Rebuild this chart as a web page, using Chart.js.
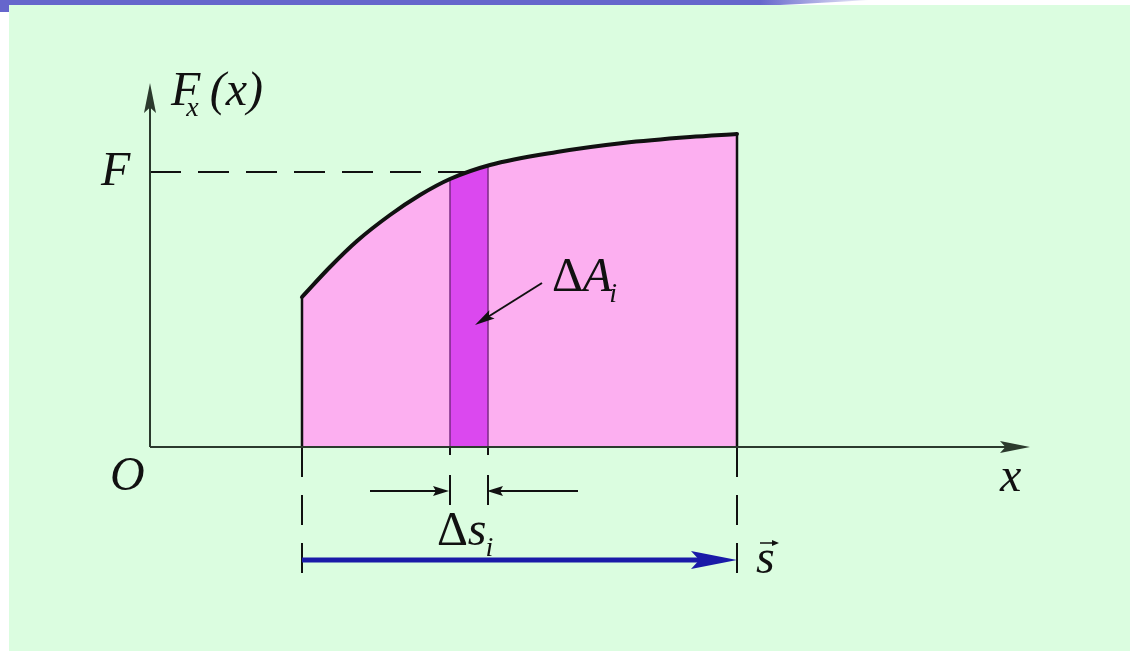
<!DOCTYPE html>
<html>
<head>
<meta charset="utf-8">
<title>Work of a variable force</title>
<script src="https://cdn.jsdelivr.net/npm/chart.js@4"></script>
<style>
  html, body { margin: 0; padding: 0; background: #ffffff; }
  #wrap { width: 1130px; height: 651px; }
</style>
</head>
<body>
<div id="wrap"><canvas id="workChart" width="1130" height="651"></canvas></div>
<script>
// values (x: position, y: force), arbitrary units
const curveX = [15.2, 18.0, 20.7, 24.0, 27.0, 30.0, 34.0, 40.7, 47.3, 54.0, 58.7];
const curveY = [15.0, 18.0, 20.6, 23.2, 25.2, 26.8, 28.2, 29.5, 30.4, 31.0, 31.3];
const limitsX = [15.2, 58.7];          // start and end of the displacement s
const limitsY = [15.0, 31.3];          // force at both ends
const stripX = [30.0, 33.8];           // the small step Δs_i
const stripY = [26.8, 28.15];
const forceF = 27.5;                   // level F marked on the axis
const crossX = 32.0;                   // where the curve reaches F
const axisEnd = [88, 36.4];            // tip of x axis, tip of F axis
const guideLow = -13.1;                // bottom of the long dashed guides
const stripGuideLow = -5.8;            // bottom of the short dashed guides
const dimY = -4.4;                     // height of the Δs_i arrows
const dimLeft = [22.0, 29.9];
const dimRight = [42.8, 33.7];
const sArrowY = -11.3;                 // height of the blue s arrow
const pointerX = [39.2, 32.5];         // ΔA_i pointer
const pointerY = [16.4, 12.2];

const pts = (xs, ys) => xs.map((x, i) => ({ x: x, y: ys[i] }));
const seg = (x0, y0, x1, y1) => [{ x: x0, y: y0 }, { x: x1, y: y1 }];

const INK = '#111111';
const AXIS = '#2b3a2d';

// panel background and the blue strip at the top
const backdrop = {
    id: 'backdrop',
    beforeDraw(chart) {
        const ctx = chart.ctx;
        ctx.save();
        ctx.fillStyle = '#ffffff';
        ctx.fillRect(0, 0, chart.width, chart.height);
        ctx.fillStyle = '#dbfde0';
        ctx.fillRect(9, 5, chart.width - 9, chart.height - 5);
        const g = ctx.createLinearGradient(760, 0, 870, 0);
        g.addColorStop(0, '#6666cc');
        g.addColorStop(1, 'rgba(102,102,204,0.1)');
        ctx.fillStyle = g;
        ctx.beginPath();
        ctx.moveTo(0, 0);
        ctx.lineTo(868, 0);
        ctx.quadraticCurveTo(820, 3, 780, 5);
        ctx.lineTo(9, 5);
        ctx.lineTo(9, 12);
        ctx.lineTo(0, 12);
        ctx.closePath();
        ctx.fill();
        ctx.restore();
    }
};

// arrow heads on datasets flagged with `arrow`
function headOf(meta, ds) {
    const n = meta.data.length;
    const a = meta.data[n - 2], b = meta.data[n - 1];
    const dx = b.x - a.x, dy = b.y - a.y;
    const d = Math.hypot(dx, dy) || 1;
    return { tx: b.x, ty: b.y, ux: dx / d, uy: dy / d, len: ds.arrow.len, hw: ds.arrow.hw };
}

const arrowHeads = {
    id: 'arrowHeads',
    beforeDatasetDraw(chart, args) {
        const ds = chart.data.datasets[args.index];
        if (!ds.arrow) return;
        const h = headOf(args.meta, ds);
        const ctx = chart.ctx;
        const w = ds.borderWidth + 2;
        const nx = -h.uy, ny = h.ux;
        const bx = h.tx - h.ux * h.len * 0.6, by = h.ty - h.uy * h.len * 0.6;
        const ex = h.tx + h.ux * 4, ey = h.ty + h.uy * 4;
        // keep the shaft out of the arrow tip
        ctx.save();
        ctx.beginPath();
        ctx.rect(0, 0, chart.width, chart.height);
        ctx.moveTo(bx + nx * w, by + ny * w);
        ctx.lineTo(ex + nx * w, ey + ny * w);
        ctx.lineTo(ex - nx * w, ey - ny * w);
        ctx.lineTo(bx - nx * w, by - ny * w);
        ctx.closePath();
        ctx.clip('evenodd');
    },
    afterDatasetDraw(chart, args) {
        const ds = chart.data.datasets[args.index];
        if (!ds.arrow) return;
        const ctx = chart.ctx;
        ctx.restore();
        const h = headOf(args.meta, ds);
        const nx = -h.uy, ny = h.ux;
        const bx = h.tx - h.ux * h.len, by = h.ty - h.uy * h.len;
        const ix = h.tx - h.ux * h.len * 0.82, iy = h.ty - h.uy * h.len * 0.82;
        ctx.save();
        ctx.fillStyle = ds.borderColor;
        ctx.beginPath();
        ctx.moveTo(h.tx, h.ty);
        ctx.lineTo(bx + nx * h.hw, by + ny * h.hw);
        ctx.lineTo(ix, iy);
        ctx.lineTo(bx - nx * h.hw, by - ny * h.hw);
        ctx.closePath();
        ctx.fill();
        ctx.restore();
    }
};

// formula labels, placed in data coordinates
const FONT = '"Liberation Serif", "Times New Roman", serif';
const labels = {
    id: 'labels',
    afterDatasetsDraw(chart) {
        const ctx = chart.ctx;
        const xs = chart.scales.x, ys = chart.scales.y;
        const put = (parts, x, y) => {
            let px = xs.getPixelForValue(x);
            const py = ys.getPixelForValue(y);
            parts.forEach(p => {
                const size = p.sub ? 28 : 48;
                ctx.font = (p.up ? '' : 'italic ') + size + 'px ' + FONT;
                ctx.fillText(p.t, px, py + (p.sub ? 11 : 0));
                px += ctx.measureText(p.t).width + (p.gap || 0);
            });
        };
        ctx.save();
        ctx.fillStyle = INK;
        ctx.textBaseline = 'alphabetic';
        ctx.textAlign = 'left';
        put([{ t: 'F' }], -4.9, forceF - 1.3);
        put([{ t: 'F', gap: -14 }, { t: 'x', sub: true, gap: 11 }, { t: '(x)' }], 2.1, axisEnd[1] - 2.2);
        put([{ t: 'O' }], -4.0, -4.3);
        put([{ t: 'x' }], 85.0, -4.4);
        put([{ t: 'Δ', up: true }, { t: 'A', gap: -3 }, { t: 'i', sub: true }], 40.2, 15.6);
        put([{ t: 'Δ', up: true }, { t: 's', gap: -1 }, { t: 'i', sub: true }], 28.7, -9.8);
        put([{ t: 's' }], limitsX[1] + 1.9, sArrowY - 1.3);
        // vector arrow above s
        const vx = xs.getPixelForValue(limitsX[1] + 2.3);
        const vy = ys.getPixelForValue(sArrowY + 1.7);
        ctx.strokeStyle = INK;
        ctx.lineWidth = 1.5;
        ctx.beginPath();
        ctx.moveTo(vx, vy);
        ctx.lineTo(vx + 16, vy);
        ctx.stroke();
        ctx.beginPath();
        ctx.moveTo(vx + 19, vy);
        ctx.lineTo(vx + 12, vy - 3);
        ctx.lineTo(vx + 12, vy + 3);
        ctx.closePath();
        ctx.fill();
        ctx.restore();
    }
};

const line = (data, color, width, order, extra) => Object.assign({
    data: data,
    showLine: true,
    borderColor: color,
    borderWidth: width,
    pointRadius: 0,
    fill: false,
    tension: 0,
    borderCapStyle: 'butt',
    order: order
}, extra || {});

const datasets = [
    // area under F(x)
    line(pts(curveX, curveY), 'rgba(0,0,0,0)', 0, 20,
        { fill: 'origin', backgroundColor: '#fcaff0', cubicInterpolationMode: 'monotone' }),
    // the thin strip ΔA_i
    line(pts(stripX, stripY), 'rgba(0,0,0,0)', 0, 19,
        { fill: 'origin', backgroundColor: '#db48ef' }),
    line(seg(stripX[0], 0, stripX[0], stripY[0]), '#7b2a86', 1.5, 18),
    line(seg(stripX[1], 0, stripX[1], stripY[1]), '#7b2a86', 1.5, 18),
    // end lines of the area
    line(seg(limitsX[0], 0, limitsX[0], limitsY[0]), INK, 2.5, 17),
    line(seg(limitsX[1], 0, limitsX[1], limitsY[1]), INK, 2.5, 17),
    // dashed guides
    line(seg(0, forceF, crossX, forceF), INK, 2, 16, { borderDash: [31, 17] }),
    line(seg(limitsX[0], 0, limitsX[0], guideLow), INK, 2, 16, { borderDash: [30, 18] }),
    line(seg(limitsX[1], 0, limitsX[1], guideLow), INK, 2, 16, { borderDash: [30, 18] }),
    line(seg(stripX[0], 0, stripX[0], stripGuideLow), INK, 2, 16, { borderDash: [8, 20, 30, 100] }),
    line(seg(stripX[1], 0, stripX[1], stripGuideLow), INK, 2, 16, { borderDash: [8, 20, 30, 100] }),
    // axes
    line(seg(0, 0, axisEnd[0], 0), AXIS, 2, 5, { arrow: { len: 30, hw: 6 } }),
    line(seg(0, 0, 0, axisEnd[1]), AXIS, 2, 5, { arrow: { len: 30, hw: 6 } }),
    // Δs_i arrows
    line(seg(dimLeft[0], dimY, dimLeft[1], dimY), INK, 2, 4, { arrow: { len: 16, hw: 5 } }),
    line(seg(dimRight[0], dimY, dimRight[1], dimY), INK, 2, 4, { arrow: { len: 16, hw: 5 } }),
    // pointer to ΔA_i
    line(pts(pointerX, pointerY), INK, 2, 4, { arrow: { len: 20, hw: 5 } }),
    // displacement s
    line(seg(limitsX[0], sArrowY, limitsX[1], sArrowY), '#1a1aa8', 5, 3, { arrow: { len: 46, hw: 9 } }),
    // F(x) curve
    line(pts(curveX, curveY), INK, 4, 1, { cubicInterpolationMode: 'monotone', borderCapStyle: 'round' })
];

new Chart(document.getElementById('workChart'), {
    type: 'scatter',
    data: { datasets: datasets },
    options: {
        responsive: false,
        animation: false,
        devicePixelRatio: 1,
        events: [],
        layout: { padding: 0 },
        plugins: { legend: { display: false }, tooltip: { enabled: false } },
        scales: {
            x: { type: 'linear', min: -15, max: 98, display: false },
            y: { type: 'linear', min: -20.4, max: 44.7, display: false }
        }
    },
    plugins: [backdrop, arrowHeads, labels]
});
</script>
</body>
</html>
